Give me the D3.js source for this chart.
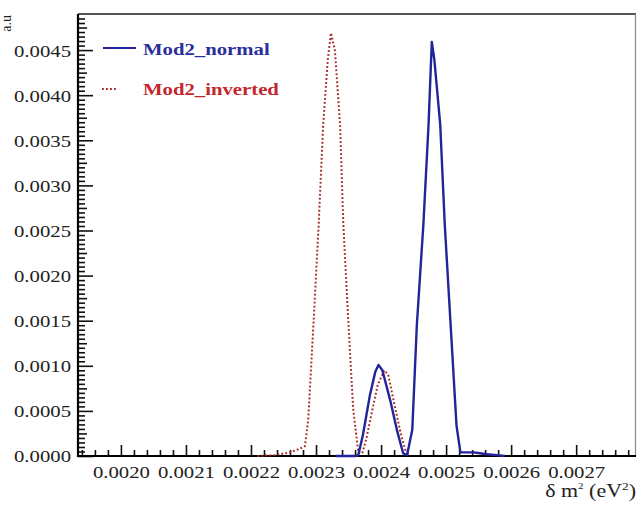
<!DOCTYPE html>
<html>
<head>
<meta charset="utf-8">
<script src="https://cdn.jsdelivr.net/npm/d3@7"></script>
<style>
  html, body { margin: 0; padding: 0; background: #ffffff; }
  svg { display: block; }
</style>
</head>
<body>
<svg id="chart" width="638" height="505"></svg>
<script>
// Mod2 normal hierarchy: δm² (eV²) sample points and probability density (a.u)
const normalX = [0.00233, 0.00236, 0.002365, 0.002372, 0.002383, 0.002391, 0.002396, 0.002402,
  0.002414, 0.002425, 0.002434, 0.00244, 0.002448, 0.002455, 0.002465, 0.002473, 0.002478,
  0.002482, 0.002491, 0.002498, 0.002507, 0.002516, 0.002522, 0.002542, 0.002552, 0.002563,
  0.002578, 0.00259];
const normalY = [0, 0, 0.00001, 0.00023, 0.00068, 0.00093, 0.00101, 0.00095,
  0.00062, 0.00027, 0.00003, 0.00001, 0.00029, 0.00145, 0.00256, 0.00367, 0.00459,
  0.00439, 0.00367, 0.00256, 0.00145, 0.00034, 0.00004, 0.00004, 0.00003, 0.00002,
  0.00001, 0];

// Mod2 inverted hierarchy
const invertedX = [0.00221, 0.002237, 0.002252, 0.00226, 0.002275, 0.002283, 0.002288,
  0.002296, 0.002304, 0.002311, 0.002318, 0.002323, 0.002329, 0.002337, 0.002342, 0.00235,
  0.002357, 0.002365, 0.002371, 0.002377, 0.002386, 0.002395, 0.002405, 0.002411, 0.00242,
  0.002429, 0.002437, 0.002443];
const invertedY = [0, 0.00001, 0.00003, 0.00004, 0.00008, 0.00011, 0.0004,
  0.00145, 0.00256, 0.00367, 0.00439, 0.00469, 0.0045, 0.00367, 0.00256, 0.00145,
  0.00053, 0.00004, 0.00003, 0.00018, 0.00049, 0.00079, 0.00095, 0.0009, 0.00059,
  0.00029, 0.00007, 0];

// Axis ranges and ticks
const xDomain = [0.001934, 0.002792];
const yDomain = [0, 0.0049];
const xMajorTicks = [0.0020, 0.0021, 0.0022, 0.0023, 0.0024, 0.0025, 0.0026, 0.0027];
const xTickLabels = ["0.0020", "0.0021", "0.0022", "0.0023", "0.0024", "0.0025", "0.0026", "0.0027"];
const yMajorTicks = [0, 0.0005, 0.0010, 0.0015, 0.0020, 0.0025, 0.0030, 0.0035, 0.0040, 0.0045];
const yTickLabels = ["0.0000", "0.0005", "0.0010", "0.0015", "0.0020", "0.0025", "0.0030", "0.0035", "0.0040", "0.0045"];
const xMinorStep = 0.00002;
const yMinorStep = 0.00005;

const seriesNames = ["Mod2_normal", "Mod2_inverted"];
const blue = "#23239a";
const red = "#a52828";
const serif = "'Liberation Serif', 'DejaVu Serif', serif";
const textStretch = 1.22;

const margin = { left: 78, right: 2, top: 14, bottom: 49 };
const W = 638, H = 505;

const svg = d3.select("#chart");
const x = d3.scaleLinear().domain(xDomain).range([margin.left, W - margin.right]);
const y = d3.scaleLinear().domain(yDomain).range([H - margin.bottom, margin.top]);

const x0 = x.range()[0], x1 = x.range()[1];
const yBot = y.range()[0], yTop = y.range()[1];

// minor tick values, built from the step on integer counters
function minorTicks(lo, hi, step) {
  const out = [];
  const n0 = Math.ceil(lo / step - 1e-6), n1 = Math.floor(hi / step + 1e-6);
  for (let i = n0; i <= n1; i++) out.push(+(i * step).toFixed(7));
  return out;
}
const xMinor = minorTicks(xDomain[0], xDomain[1], xMinorStep)
  .filter(v => !xMajorTicks.some(m => Math.abs(m - v) < 1e-9));
const yMinorAll = minorTicks(yDomain[0], yDomain[1] - 1e-6, yMinorStep)
  .filter(v => !yMajorTicks.some(m => Math.abs(m - v) < 1e-9));
const yHalf = yMinorAll.filter(v => Math.abs((v / 0.00025) - Math.round(v / 0.00025)) < 1e-6);
const yMinor = yMinorAll.filter(v => !yHalf.includes(v));

// frame: top and right in gray
svg.append("line").attr("x1", x0).attr("x2", x1).attr("y1", yTop).attr("y2", yTop)
  .attr("stroke", "#555").attr("stroke-width", 2);
svg.append("line").attr("x1", x1 - 0.5).attr("x2", x1 - 0.5).attr("y1", yTop).attr("y2", yBot)
  .attr("stroke", "#8a8a8a").attr("stroke-width", 1.2);

function tickAxis(axis, g) {
  g.call(axis);
  g.attr("font-family", null).attr("font-size", null);
  g.select(".domain").remove();
  g.selectAll(".tick line").attr("stroke", "#111").attr("stroke-width", 1.6);
}

// x axis ticks
const gxMinor = svg.append("g").attr("transform", `translate(0,${yBot})`);
tickAxis(d3.axisBottom(x).tickValues(xMinor).tickSize(-6).tickFormat(""), gxMinor);
const gxMajor = svg.append("g").attr("transform", `translate(0,${yBot})`);
tickAxis(d3.axisBottom(x).tickValues(xMajorTicks).tickSize(-11)
  .tickFormat((d, i) => xTickLabels[i]), gxMajor);
gxMajor.selectAll(".tick text")
  .attr("y", 10).attr("dy", "0.71em")
  .attr("fill", "#222")
  .style("font-family", serif).style("font-size", "17px")
  .attr("transform", `scale(${textStretch},1)`);

// y axis ticks
const gyMinor = svg.append("g").attr("transform", `translate(${x0},0)`);
tickAxis(d3.axisLeft(y).tickValues(yMinor).tickSize(-7).tickFormat(""), gyMinor);
const gyHalf = svg.append("g").attr("transform", `translate(${x0},0)`);
tickAxis(d3.axisLeft(y).tickValues(yHalf).tickSize(-9).tickFormat(""), gyHalf);
const gyMajor = svg.append("g").attr("transform", `translate(${x0},0)`);
tickAxis(d3.axisLeft(y).tickValues(yMajorTicks).tickSize(-15)
  .tickFormat((d, i) => yTickLabels[i]), gyMajor);
gyMajor.selectAll(".tick text")
  .attr("x", -7 / textStretch).attr("dy", "0.35em")
  .attr("fill", "#222")
  .style("font-family", serif).style("font-size", "17px")
  .attr("transform", `scale(${textStretch},1)`);

// axis lines: left and bottom in black
svg.append("line").attr("x1", x0).attr("x2", x0).attr("y1", yTop).attr("y2", yBot + 1)
  .attr("stroke", "#000").attr("stroke-width", 2.2);
svg.append("line").attr("x1", x0 - 1).attr("x2", x1).attr("y1", yBot).attr("y2", yBot)
  .attr("stroke", "#000").attr("stroke-width", 2.2);

// curves
const line = d3.line().x(d => x(d[0])).y(d => y(d[1])).curve(d3.curveLinear);
const normalData = normalX.map((v, i) => [v, normalY[i]]);
const invertedData = invertedX.map((v, i) => [v, invertedY[i]]);

svg.append("path").datum(invertedData).attr("d", line)
  .attr("fill", "none").attr("stroke", red).attr("stroke-width", 2)
  .attr("stroke-dasharray", "1.8,2.2").attr("stroke-linejoin", "round");
svg.append("path").datum(normalData).attr("d", line)
  .attr("fill", "none").attr("stroke", blue).attr("stroke-width", 2.4)
  .attr("stroke-linejoin", "round");

// legend
const legend = svg.append("g");
legend.append("line").attr("x1", 103).attr("x2", 136).attr("y1", 48).attr("y2", 48)
  .attr("stroke", blue).attr("stroke-width", 2.2);
legend.append("text").attr("transform", `translate(143,55) scale(${textStretch},1)`)
  .attr("fill", "#2a2e9c")
  .style("font-family", serif).style("font-size", "17px").style("font-weight", "bold")
  .text(seriesNames[0]);
legend.append("line").attr("x1", 102).attr("x2", 118).attr("y1", 89).attr("y2", 89)
  .attr("stroke", red).attr("stroke-width", 2).attr("stroke-dasharray", "1.8,2.2");
legend.append("text").attr("transform", `translate(143,95) scale(${textStretch},1)`)
  .attr("fill", "#c4262e")
  .style("font-family", serif).style("font-size", "17px").style("font-weight", "bold")
  .text(seriesNames[1]);

// axis titles
const xt = svg.append("text")
  .attr("transform", `translate(636,497) scale(1.22,1)`)
  .attr("text-anchor", "end").attr("fill", "#222")
  .style("font-family", serif).style("font-size", "18px");
xt.append("tspan").text("δ m");
xt.append("tspan").attr("dy", -8).style("font-size", "9px").text("2");
xt.append("tspan").attr("dy", 8).text(" (eV");
xt.append("tspan").attr("dy", -7).style("font-size", "11px").text("2");
xt.append("tspan").attr("dy", 7).text(")");

svg.append("text")
  .attr("transform", `translate(11,15) rotate(-90)`)
  .attr("text-anchor", "end").attr("fill", "#222")
  .style("font-family", serif).style("font-size", "14px")
  .text("a.u");
</script>
</body>
</html>
